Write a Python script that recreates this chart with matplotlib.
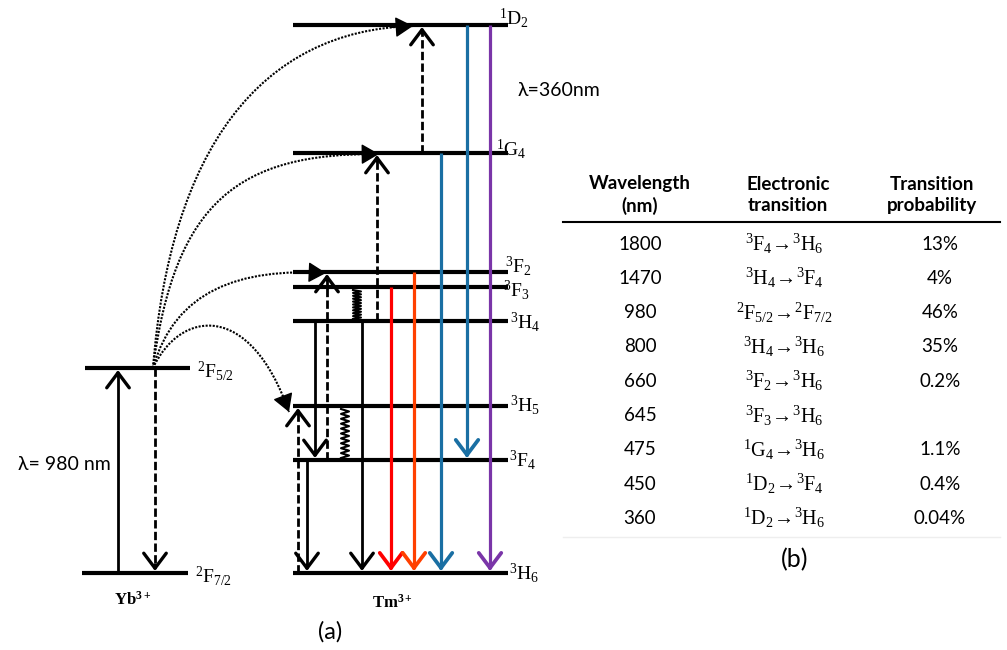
import numpy as np
import matplotlib
matplotlib.use("Agg")
import matplotlib.pyplot as plt
from matplotlib.path import Path
from matplotlib.patches import FancyArrowPatch, PathPatch

plt.rcParams["mathtext.fontset"] = "custom"
plt.rcParams["mathtext.rm"] = "Liberation Serif"
plt.rcParams["mathtext.it"] = "Liberation Serif"
plt.rcParams["mathtext.bf"] = "Liberation Serif:bold"

SERIF = ["Liberation Serif", "DejaVu Serif"]
SANS = ["Lato", "DejaVu Sans"]

# energy levels (drawn height, px from top of figure)
yb_names = ["2F5/2", "2F7/2"]
yb_levels = [368, 573]
tm_names = ["1D2", "1G4", "3F2", "3F3", "3H4", "3H5", "3F4", "3H6"]
tm_levels = [25, 153, 272, 287, 321, 406, 460, 573]

# transitions: (from, to, kind, colour)
tm_transitions = [
    ("3H6", "3H5", "dashed", "black"),
    ("3F4", "3H6", "solid", "black"),
    ("3H4", "3F4", "solid", "black"),
    ("3F4", "3F2", "dashed", "black"),
    ("3H5", "3F4", "wiggle", "black"),
    ("3F3", "3H4", "wiggle", "black"),
    ("3H4", "3H6", "solid", "black"),
    ("3H4", "1G4", "dashed", "black"),
    ("3F3", "3H6", "solid", "#ff0000"),
    ("3F2", "3H6", "solid", "#ff4000"),
    ("1G4", "1D2", "dashed", "black"),
    ("1G4", "3H6", "solid", "#1a6fa3"),
    ("1D2", "3F4", "solid", "#1a6fa3"),
    ("1D2", "3H6", "solid", "#7a35a8"),
]
tm_arrow_x = [298, 307, 315, 327, 345, 357, 362, 377, 391, 414, 422, 441, 467, 490]

yb_transitions = [("2F7/2", "2F5/2", "solid", "black"), ("2F5/2", "2F7/2", "dashed", "black")]
yb_arrow_x = [118, 155]

# energy transfer Yb 2F5/2 -> Tm levels
transfer_targets = ["1D2", "1G4", "3F2", "3H5"]

# table
wavelengths = ["1800", "1470", "980", "800", "660", "645", "475", "450", "360"]
transitions = [
    r"$^{3}F_{4}\!\rightarrow\!^{3}H_{6}$",
    r"$^{3}H_{4}\!\rightarrow\!^{3}F_{4}$",
    r"$^{2}F_{5/2}\!\rightarrow\!^{2}F_{7/2}$",
    r"$^{3}H_{4}\!\rightarrow\!^{3}H_{6}$",
    r"$^{3}F_{2}\!\rightarrow\!^{3}H_{6}$",
    r"$^{3}F_{3}\!\rightarrow\!^{3}H_{6}$",
    r"$^{1}G_{4}\!\rightarrow\!^{3}H_{6}$",
    r"$^{1}D_{2}\!\rightarrow\!^{3}F_{4}$",
    r"$^{1}D_{2}\!\rightarrow\!^{3}H_{6}$",
]
probabilities = ["13%", "4%", "46%", "35%", "0.2%", "", "1.1%", "0.4%", "0.04%"]

level_tex = {
    "1D2": r"$^{1}D_{2}$", "1G4": r"$^{1}G_{4}$", "3F2": r"$^{3}F_{2}$",
    "3F3": r"$^{3}F_{3}$", "3H4": r"$^{3}H_{4}$", "3H5": r"$^{3}H_{5}$",
    "3F4": r"$^{3}F_{4}$", "3H6": r"$^{3}H_{6}$",
    "2F5/2": r"$^{2}F_{5/2}$", "2F7/2": r"$^{2}F_{7/2}$",
}

fig = plt.figure(figsize=(10.07, 6.5), dpi=100)
ax = fig.add_axes([0, 0, 1, 1])
ax.set_xlim(0, 1007)
ax.set_ylim(650, 0)
ax.axis("off")

tm = dict(zip(tm_names, tm_levels))
yb = dict(zip(yb_names, yb_levels))

# level lines
for name, y in yb.items():
    x0, x1 = (85, 190) if name == "2F5/2" else (82, 188)
    ax.plot([x0, x1], [y, y], color="black", lw=3, solid_capstyle="butt")
for name, y in tm.items():
    ax.plot([293, 508], [y, y], color="black", lw=3, solid_capstyle="butt")

tm_label_pos = {"1D2": (499, 18), "1G4": (496, 149), "3F2": (505, 266), "3F3": (503, 290),
                "3H4": (510, 322), "3H5": (510, 405), "3F4": (509, 460), "3H6": (509, 573)}
for name, (lx, ly) in tm_label_pos.items():
    ax.text(lx, ly, level_tex[name], fontsize=14, family=SERIF, ha="left", va="center")
ax.text(197, 371, level_tex["2F5/2"], fontsize=14, family=SERIF, ha="left", va="center")
ax.text(195, 576, level_tex["2F7/2"], fontsize=14, family=SERIF, ha="left", va="center")


def head(x, y_tip, direction, color, lw):
    ax.annotate("", xy=(x, y_tip), xytext=(x, y_tip - 6 * direction),
                arrowprops=dict(arrowstyle="->,head_length=0.6,head_width=0.45",
                                color=color, lw=lw + 0.4, shrinkA=0, shrinkB=0, mutation_scale=18))


def vertical(x, y0, y1, kind, color):
    direction = 1 if y1 > y0 else -1
    tip = y1 - 2 * direction
    lw = 2.3 if color != "black" else 2.0
    if kind == "wiggle":
        n = 10
        ys = np.linspace(y0 + 3 * direction, tip, 2 * n + 1)
        xs = x + np.where(np.arange(2 * n + 1) % 2 == 0, -4, 4)
        ax.plot(xs, ys, color=color, lw=1.5)
        return
    ls = (0, (3, 1.2)) if kind == "dashed" else "-"
    ax.plot([x, x], [y0, tip - 3 * direction], color=color, lw=lw, linestyle=ls,
            solid_capstyle="butt", dash_capstyle="butt")
    head(x, tip, direction, color, lw)


for x, (a, b, kind, col) in zip(tm_arrow_x, tm_transitions):
    vertical(x, tm[a], tm[b], kind, col)
for x, (a, b, kind, col) in zip(yb_arrow_x, yb_transitions):
    vertical(x, yb[a], yb[b], kind, col)


def bezier(p, t):
    p = np.asarray(p, float)
    return ((1 - t) ** 3) * p[0] + 3 * ((1 - t) ** 2) * t * p[1] + 3 * (1 - t) * t ** 2 * p[2] + t ** 3 * p[3]


# dotted energy transfer curves
start = (153, yb["2F5/2"])
ends = {"1D2": (413, tm["1D2"] + 1), "1G4": (379, tm["1G4"] + 1),
        "3F2": (326, tm["3F2"] + 1), "3H5": (289, tm["3H5"] + 6)}
ctrl = {"1D2": [(170, 150), (260, 30)], "1G4": [(175, 200), (240, 153)],
        "3F2": [(175, 290), (240, 268)], "3H5": [(180, 310), (250, 300)]}
for t in transfer_targets:
    verts = [start] + ctrl[t] + [ends[t]]
    path = Path(verts, [Path.MOVETO, Path.CURVE4, Path.CURVE4, Path.CURVE4])
    ax.add_patch(PathPatch(path, fill=False, color="black", lw=1.5, linestyle=(0, (1, 0.7))))
    p_near = bezier(verts, 0.95)
    ax.add_patch(FancyArrowPatch(tuple(p_near), ends[t], arrowstyle="-|>,head_length=0.55,head_width=0.32",
                                 mutation_scale=20, color="black", lw=1.0, shrinkA=0, shrinkB=0))

ax.text(133, 600, r"$\mathbf{Yb^{3+}}$", fontsize=12, ha="center", va="center")
ax.text(392, 603, r"$\mathbf{Tm^{3+}}$", fontsize=12, ha="center", va="center")
ax.text(330, 632, "(a)", fontsize=17, family=SANS, ha="center", va="center")
ax.text(518, 90, "λ=360nm", fontsize=14, family=SANS, ha="left", va="center")
ax.text(18, 465, "λ= 980 nm", fontsize=14, family=SANS, ha="left", va="center")

# table
col_x = [640, 788, 932]
headers = ["Wavelength\n(nm)", "Electronic\ntransition", "Transition\nprobability"]
for cx, h in zip(col_x, headers):
    ax.text(cx, 195, h, fontsize=13.5, family=SANS, weight="bold",
            ha="center", va="center", linespacing=1.3)
ax.plot([563, 1000], [222, 222], color="black", lw=1.5)
ax.plot([563, 1000], [537, 537], color="#eeeeee", lw=1)
for i, (w, tr, p) in enumerate(zip(wavelengths, transitions, probabilities)):
    y = 244 + i * 34.3
    ax.text(col_x[0], y, w, fontsize=13.5, family=SANS, ha="center", va="center")
    ax.text(col_x[1] - 4, y, tr, fontsize=14.5, ha="center", va="center")
    ax.text(col_x[2] + 8, y, p, fontsize=13.5, family=SANS, ha="center", va="center")
ax.text(795, 560, "(b)", fontsize=18, family=SANS, ha="center", va="center")

fig.savefig("out.png", dpi=100)
